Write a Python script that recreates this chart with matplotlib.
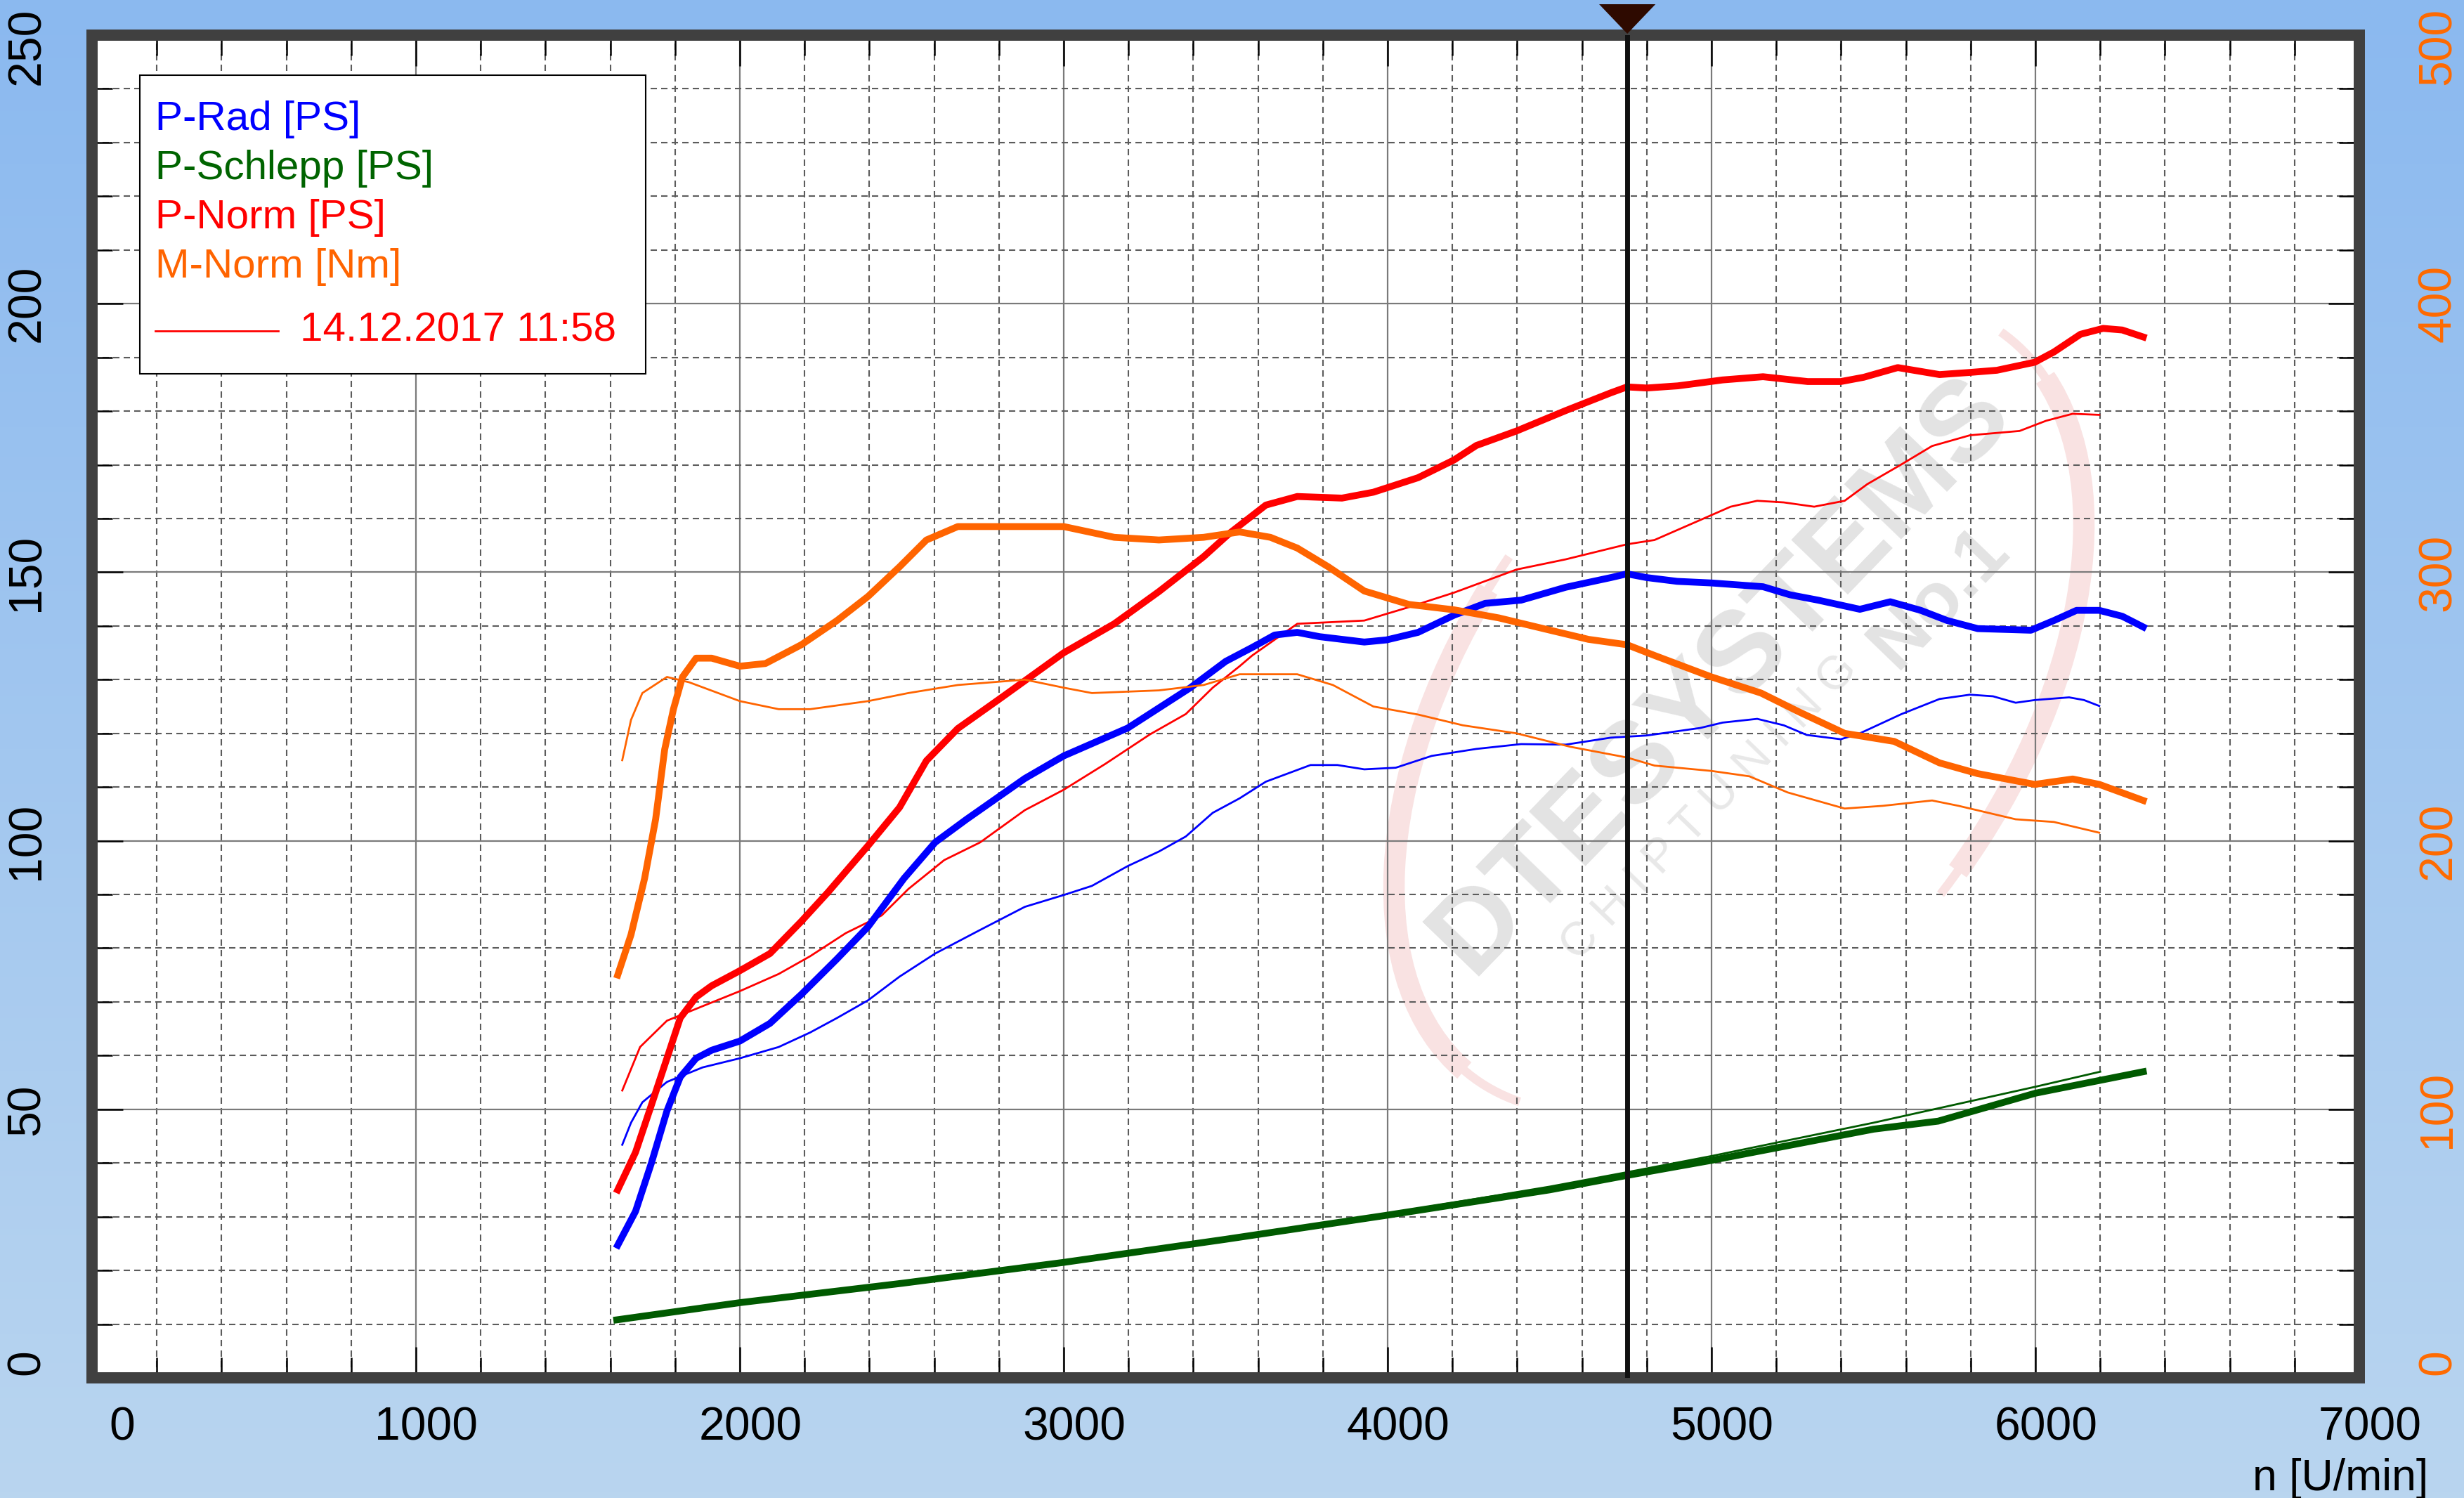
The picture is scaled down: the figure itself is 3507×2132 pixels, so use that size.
import numpy as np
import matplotlib
matplotlib.use("Agg")
import matplotlib.pyplot as plt
import matplotlib.transforms as mtransforms
from matplotlib.patches import Rectangle, Polygon, Arc
from matplotlib.lines import Line2D

plt.rcParams['font.family'] = ['Liberation Sans', 'DejaVu Sans']
plt.rcParams['lines.scale_dashes'] = False

# P-Rad [PS], current run (thick) and reference run (thin)
rad_rpm = [1623, 1678, 1727, 1775, 1816, 1865, 1913, 2000, 2093, 2190, 2300, 2396, 2507, 2603,
           2700, 2880, 3000, 3198, 3391, 3500, 3582, 3651, 3721, 3790, 3928, 3997, 4094, 4205,
           4301, 4412, 4550, 4689, 4739, 4800, 4894, 5000, 5159, 5242, 5329, 5458, 5552, 5646,
           5728, 5822, 5986, 6057, 6127, 6197, 6268, 6333]
rad_ps = [24.7, 31, 40, 49.7, 56, 59.5, 61, 62.7, 66, 71.4, 78, 84, 93, 99.7,
          104, 111.6, 115.8, 121, 128.5, 133.4, 136, 138.3, 138.8, 138, 137, 137.4, 138.8, 142,
          144.2, 144.8, 147.2, 149, 149.7, 149, 148.3, 148, 147.3, 145.8, 144.8, 143.1, 144.5, 142.9,
          141, 139.5, 139.2, 141, 142.9, 142.9, 141.8, 139.8]

rad_ref_rpm = [1637, 1664, 1699, 1775, 1885, 2000, 2120, 2217, 2300, 2396, 2493, 2603, 2742, 2880,
               3000, 3087, 3198, 3294, 3377, 3460, 3543, 3624, 3762, 3845, 3928, 4025, 4136, 4274,
               4412, 4550, 4689, 4800, 4965, 5034, 5141, 5223, 5294, 5399, 5458, 5587, 5704, 5798,
               5869, 5939, 5998, 6104, 6150, 6197]
rad_ref_ps = [43.4, 47.5, 51.3, 55.1, 57.8, 59.5, 61.6, 64.3, 67, 70.3, 74.7, 79, 83.4, 87.7,
              89.9, 91.6, 95.3, 98, 100.8, 105.2, 107.9, 111, 114.1, 114.1, 113.3, 113.6, 115.8, 117.1,
              118, 117.9, 119.2, 119.6, 121, 122, 122.7, 121.5, 119.7, 118.9, 120, 123.6, 126.4, 127.2,
              126.9, 125.7, 126.2, 126.7, 126.2, 125.1]

# P-Schlepp [PS]
schlepp_rpm = [1620, 2000, 2500, 3000, 3500, 4000, 4500, 4740, 5000, 5500, 5700, 6000, 6333]
schlepp_ps = [10.8, 14, 17.6, 21.5, 25.8, 30.3, 35, 37.7, 40.5, 46.3, 47.8, 53, 57]
schlepp_ref_rpm = [1640, 2000, 3000, 4000, 4500, 4740, 5000, 5500, 6000, 6200]
schlepp_ref_ps = [11, 14.1, 21.6, 30.6, 35.6, 38.3, 41.3, 47.5, 54.2, 57]

# P-Norm [PS]
norm_rpm = [1623, 1678, 1727, 1775, 1816, 1865, 1913, 2000, 2093, 2190, 2272, 2396, 2493, 2576,
            2673, 2811, 3000, 3156, 3294, 3432, 3513, 3624, 3721, 3859, 3956, 4094, 4205, 4274,
            4398, 4550, 4689, 4739, 4800, 4896, 5034, 5159, 5297, 5399, 5470, 5575, 5704, 5798,
            5881, 5998, 6057, 6139, 6209, 6268, 6333]
norm_ps = [35, 42, 50.8, 59.5, 67, 70.9, 73, 75.8, 79, 85, 90.4, 99.1, 106.2, 114.9,
           120.9, 126.8, 135, 140.4, 146.4, 152.9, 157.3, 162.5, 164.1, 163.8, 164.9, 167.6, 170.9, 173.6,
           176.3, 180.1, 183.4, 184.5, 184.3, 184.7, 185.8, 186.4, 185.5, 185.5, 186.3, 188.1, 186.8, 187.2,
           187.6, 189.1, 191, 194.3, 195.4, 195.1, 193.8]

norm_ref_rpm = [1637, 1692, 1775, 1885, 2000, 2120, 2217, 2327, 2438, 2520, 2631, 2742, 2880, 3000,
                3128, 3266, 3377, 3460, 3543, 3582, 3721, 3928, 4066, 4205, 4398, 4550, 4739, 4824,
                4953, 5059, 5141, 5223, 5317, 5411, 5481, 5587, 5681, 5798, 5951, 6033, 6115, 6197]
norm_ref_ps = [53.5, 61.6, 66.5, 69.2, 72, 75.2, 78.5, 82.8, 86.1, 91, 96.4, 99.7, 105.7, 109.5,
               114.3, 119.8, 123.6, 128.5, 132.5, 134.5, 140.4, 141, 143.5, 146.2, 150.5, 152.4, 155.2, 156,
               159.4, 162.2, 163.3, 163, 162.2, 163.3, 166.4, 170.1, 173.5, 175.5, 176.3, 178.2, 179.5, 179.3]

# M-Norm [Nm]
torque_rpm = [1623, 1664, 1706, 1740, 1768, 1795, 1823, 1865, 1913, 2000, 2079, 2190, 2300, 2396,
              2493, 2576, 2673, 2880, 3000, 3156, 3294, 3432, 3543, 3638, 3721, 3817, 3928, 4066,
              4205, 4343, 4481, 4620, 4739, 4824, 5000, 5153, 5270, 5411, 5564, 5704, 5822, 5998,
              6115, 6197, 6333]
torque_nm = [150, 165, 186, 208, 234, 249, 261, 268, 268, 265, 266, 273, 282, 291,
             302, 312, 317, 317, 317, 313, 312, 313, 315, 313, 309, 302, 293, 288,
             286, 283, 279, 275, 273, 269, 261, 255, 248, 240, 237, 229, 225, 221,
             223, 221, 215]

torque_ref_rpm = [1637, 1664, 1699, 1775, 1844, 2000, 2120, 2217, 2396, 2520, 2673, 2880, 3000, 3087,
                  3294, 3432, 3543, 3721, 3831, 3956, 4094, 4232, 4398, 4564, 4739, 4824, 5000, 5117,
                  5235, 5411, 5528, 5681, 5763, 5939, 6057, 6197]
torque_ref_nm = [230, 245, 255, 261, 259, 252, 249, 249, 252, 255, 258, 260, 257, 255,
                 256, 258, 262, 262, 258, 250, 247, 243, 240, 235, 231, 228, 226, 224,
                 218, 212, 213, 215, 213, 208, 207, 203]

cursor_rpm = 4740

legend_names = ['P-Rad [PS]', 'P-Schlepp [PS]', 'P-Norm [PS]', 'M-Norm [Nm]']
legend_colors = ['#0000ff', '#006400', '#ff0000', '#ff6400']
run_label = '14.12.2017 11:58'

x_ticks = list(range(0, 7001, 1000))
ps_ticks = list(range(0, 251, 50))
nm_ticks = list(range(0, 501, 100))

BLUE, GREEN, RED, ORANGE = '#0000ff', '#005a00', '#ff0000', '#ff6400'

# ---- figure ----
W, H, DPI = 3507, 2132, 100
fig = plt.figure(figsize=(W / DPI, H / DPI), dpi=DPI)


def fx(px):
    return px / W


def fy(py):
    return 1 - py / H


# blue gradient background
bg = fig.add_axes([0, 0, 1, 1], zorder=-10)
top_c = np.array([0x8b, 0xb9, 0xef]) / 255
bot_c = np.array([0xb9, 0xd5, 0xef]) / 255
t = np.linspace(0, 1, 256)[:, None, None]
bg.imshow(top_c + (bot_c - top_c) * t, aspect='auto', extent=[0, 1, 0, 1])
bg.axis('off')

ax = fig.add_axes([fx(131), fy(1961), 3227 / W, 1911 / H])
ax.set_facecolor('white')
ax.set_xlim(0, 7000)
ax.set_ylim(0, 250)
ax2 = ax.twinx()
ax2.set_ylim(0, 500)

ax.set_xticks(x_ticks)
ax.set_xticks(np.arange(0, 7001, 200), minor=True)
ax.set_yticks(ps_ticks)
ax.set_yticks(np.arange(0, 251, 10), minor=True)
ax2.set_yticks(nm_ticks)
ax2.set_yticks(np.arange(0, 501, 20), minor=True)

ax.set_axisbelow(True)
ax.grid(which='major', color='#7a7a7a', lw=1.6, ls='-')
ax.grid(which='minor', color='#5c5c5c', lw=1.5, ls=(0, (6.5, 4.3)))

ax.tick_params(which='both', direction='in', top=True, right=False, color='black', width=1.8)
ax.tick_params(which='major', length=32)
ax.tick_params(which='minor', length=21)
ax.tick_params(axis='x', labelsize=47.5, pad=29)
ax.tick_params(axis='y', labelsize=47.5, pad=44, labelrotation=90)
ax2.tick_params(which='both', direction='in', left=False, right=True, color='black', width=1.8)
ax2.tick_params(which='major', length=32)
ax2.tick_params(which='minor', length=21)
ax2.tick_params(axis='y', labelsize=47.5, pad=59, labelrotation=90, labelcolor='#ff6a00')

for a in (ax, ax2):
    for sp in a.spines.values():
        sp.set_linewidth(11.5)
        sp.set_color('#404040')

# end labels sit a little inside the axis range in the original
up = mtransforms.ScaledTranslation(0, 22 / DPI, fig.dpi_scale_trans)
down = mtransforms.ScaledTranslation(0, -16 / DPI, fig.dpi_scale_trans)
for a in (ax, ax2):
    labs = a.get_yticklabels()
    for lab in labs:
        lab.set_va('center')
    labs[0].set_transform(labs[0].get_transform() + up)
    labs[-1].set_transform(labs[-1].get_transform() + down)

# shift x tick labels slightly right like the original
shift = mtransforms.ScaledTranslation(15 / DPI, 0, fig.dpi_scale_trans)
xlabs = ax.get_xticklabels()
for lab in xlabs:
    lab.set_transform(lab.get_transform() + shift)
xlabs[0].set_transform(xlabs[0].get_transform() + mtransforms.ScaledTranslation(28 / DPI, 0, fig.dpi_scale_trans))

# watermark
ax.text(fx(2450), fy(960), 'DTESYSTEMS', transform=fig.transFigure, rotation=46,
        fontsize=118, fontweight='bold', color='#e3e3e3', ha='center', va='center', zorder=0.2)
ax.text(fx(2434), fy(1150), 'C H I P T U N I N G', transform=fig.transFigure, rotation=46,
        fontsize=48, color='#e8e8e8', ha='center', va='center', zorder=0.2)
ax.text(fx(2760), fy(850), 'No.1', transform=fig.transFigure, rotation=46,
        fontsize=78, fontweight='bold', color='#e3e3e3', ha='center', va='center', zorder=0.2)
ident = mtransforms.IdentityTransform()
swoosh = [((100, 178), 22), ((92, 186), 9), ((268, 352), 22), ((262, 360), 9)]
for (th1, th2), lw in swoosh:
    ax.add_patch(Arc((2475, H - 1005), 1300, 780, angle=55, theta1=th1, theta2=th2,
                     transform=ident, lw=lw, color='#f9e2e2', zorder=0.2))

# curves
ax.plot(schlepp_ref_rpm, schlepp_ref_ps, color=GREEN, lw=2, zorder=3)
ax.plot(rad_ref_rpm, rad_ref_ps, color=BLUE, lw=2, zorder=3)
ax.plot(norm_ref_rpm, norm_ref_ps, color=RED, lw=2, zorder=3)
ax.plot(schlepp_rpm, schlepp_ps, color=GREEN, lw=7, zorder=4)
ax.plot(rad_rpm, rad_ps, color=BLUE, lw=7, zorder=4)
ax.plot(norm_rpm, norm_ps, color=RED, lw=7, zorder=4)
ax2.plot(torque_ref_rpm, torque_ref_nm, color=ORANGE, lw=2, zorder=3)
ax2.plot(torque_rpm, torque_nm, color=ORANGE, lw=7, zorder=4)

# cursor
ax2.axvline(cursor_rpm, color='#101010', lw=5, zorder=10)
blend = mtransforms.blended_transform_factory(ax.transData, fig.transFigure)
half = 87
fig.add_artist(Polygon([(cursor_rpm - half, fy(6)), (cursor_rpm + half, fy(6)), (cursor_rpm, fy(48))],
                       closed=True, transform=blend, facecolor='#2e0a00', edgecolor='none', zorder=6))

# axis title
fig.text(fx(3456), fy(2105), 'n [U/min]', ha='right', va='center', fontsize=45)

# legend box
fig.add_artist(Rectangle((fx(199), fy(532)), (919 - 199) / W, (532 - 107) / H, transform=fig.transFigure,
                         facecolor='white', edgecolor='black', lw=1.5, zorder=5))
for i, (name, col) in enumerate(zip(legend_names, legend_colors)):
    fig.text(fx(221), fy(170 + i * 70), name, color=col, fontsize=42, ha='left', va='center', zorder=6)
fig.add_artist(Line2D([fx(221), fx(396)], [fy(471), fy(471)], transform=fig.transFigure,
                      color=RED, lw=2, zorder=6))
fig.text(fx(427), fy(471), run_label, color=RED, fontsize=42, ha='left', va='center', zorder=6)

fig.savefig('out.png', dpi=DPI)
